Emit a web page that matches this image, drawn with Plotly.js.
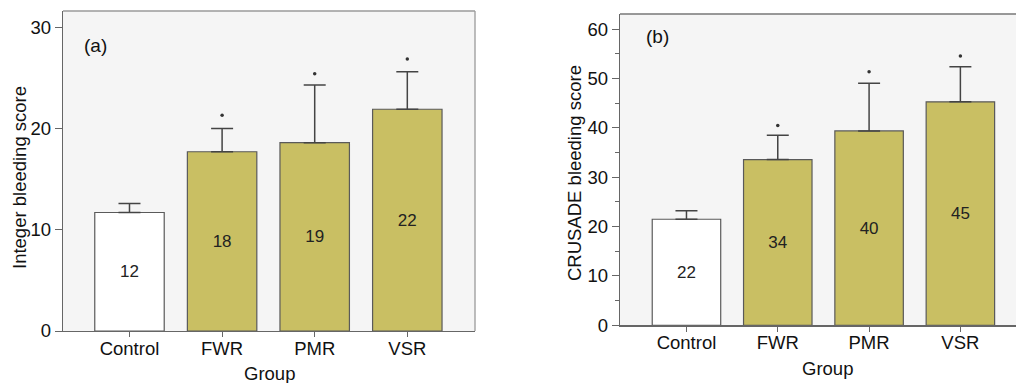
<!DOCTYPE html>
<html>
<head>
<meta charset="utf-8">
<script src="https://cdn.plot.ly/plotly-3.0.1.min.js"></script>
<style>html,body{margin:0;padding:0;background:#fff;}#chart{width:1016px;height:383px;}</style>
</head>
<body>
<div id="chart"></div>
<script>
// ---- data ----
const groups = ["Control", "FWR", "PMR", "VSR"];
// panel (a) Integer bleeding score
const integerMean = [11.7, 17.7, 18.6, 21.9];
const integerErr = [0.9, 2.3, 5.7, 3.7];
const integerLabels = ["12", "18", "19", "22"];
const integerStars = [null, 21.3, 25.4, 26.85];
// panel (b) CRUSADE bleeding score
const crusadeMean = [21.5, 33.6, 39.4, 45.3];
const crusadeErr = [1.7, 4.9, 9.65, 7.1];
const crusadeLabels = ["22", "34", "40", "45"];
const crusadeStars = [null, 40.5, 51.4, 54.6];
const yTicksA = [0, 10, 20, 30];
const yTicksB = [0, 10, 20, 30, 40, 50, 60];

// ---- style ----
const W = 1016, H = 383;
const FONT = "Liberation Sans, Arial, sans-serif";
const olive = "#c9bf63";
const barColors = ["#ffffff", olive, olive, olive];
const px = p => p / W;
const py = p => 1 - p / H;

function barTrace(y, err, labels, xa, ya) {
  return {
    type: "bar", x: groups, y: y, xaxis: xa, yaxis: ya,
    width: 0.75,
    marker: {color: barColors, line: {color: "#5a5a5a", width: 1.2}},
    text: labels, textposition: "inside", insidetextanchor: "middle",
    textangle: 0, constraintext: "none",
    textfont: {family: FONT, size: 17, color: "#222"},
    error_y: {type: "data", symmetric: false, array: err, arrayminus: [0,0,0,0],
              color: "#444", thickness: 1.5, width: 11},
    hoverinfo: "skip", showlegend: false
  };
}
function starTrace(y, xa, ya) {
  return {
    type: "scatter", mode: "markers", x: groups, y: y, xaxis: xa, yaxis: ya,
    marker: {size: 3.5, color: "#333"}, hoverinfo: "skip", showlegend: false
  };
}

const data = [
  barTrace(integerMean, integerErr, integerLabels, "x", "y"),
  starTrace(integerStars, "x", "y"),
  barTrace(crusadeMean, crusadeErr, crusadeLabels, "x2", "y2"),
  starTrace(crusadeStars, "x2", "y2")
];

const tickfont = {family: FONT, size: 18.5, color: "#111"};
const xBase = {
  type: "category", showgrid: false, zeroline: false, showline: true,
  linecolor: "#666", linewidth: 1.3, ticks: "outside", ticklen: 5,
  tickcolor: "#666", tickfont: tickfont, automargin: false, fixedrange: true,
  ticklabelstandoff: -5
};
const yBase = {
  showgrid: false, zeroline: false, showline: true, linecolor: "#666",
  linewidth: 1.3, ticks: "outside", ticklen: 7, tickcolor: "#666",
  tickfont: tickfont, automargin: false, fixedrange: true
};

const layout = {
  width: W, height: H,
  margin: {l: 0, r: 0, t: 0, b: 0},
  paper_bgcolor: "#ffffff",
  plot_bgcolor: "#f5f5f5",
  font: {family: FONT},
  xaxis: Object.assign({}, xBase, {domain: [px(63), px(475)], range: [-0.718, 3.731], anchor: "y"}),
  yaxis: Object.assign({}, yBase, {domain: [py(331), py(11)], range: [0, 31.6], tickvals: yTicksA, anchor: "x"}),
  xaxis2: Object.assign({}, xBase, {domain: [px(620), 1], range: [-0.728, 3.609], anchor: "y2"}),
  yaxis2: Object.assign({}, yBase, {domain: [py(325.3), py(14)], range: [0, 63.1], tickvals: yTicksB, anchor: "x2",
    minor: {tickvals: [5, 15, 25, 35, 45, 55], ticks: "outside", ticklen: 4, tickcolor: "#666"}}),
  shapes: [
    {type: "line", xref: "paper", yref: "paper", x0: px(63), x1: px(475), y0: py(11), y1: py(11), line: {color: "#9a9a9a", width: 1.3}},
    {type: "line", xref: "paper", yref: "paper", x0: px(475), x1: px(475), y0: py(331), y1: py(11), line: {color: "#9a9a9a", width: 1.3}},
    {type: "line", xref: "paper", yref: "paper", x0: px(620), x1: 1, y0: py(14), y1: py(14), line: {color: "#777", width: 1.3}}
  ],
  annotations: [
    {text: "(a)", xref: "paper", yref: "paper", x: px(82), y: py(45), xanchor: "left", yanchor: "middle", showarrow: false, font: {family: FONT, size: 19, color: "#111"}},
    {text: "(b)", xref: "paper", yref: "paper", x: px(644), y: py(36), xanchor: "left", yanchor: "middle", showarrow: false, font: {family: FONT, size: 19, color: "#111"}},
    {text: "Group", xref: "paper", yref: "paper", x: px(269), y: py(373), xanchor: "center", yanchor: "middle", showarrow: false, font: {family: FONT, size: 18.5, color: "#111"}},
    {text: "Group", xref: "paper", yref: "paper", x: px(827), y: py(368), xanchor: "center", yanchor: "middle", showarrow: false, font: {family: FONT, size: 18.5, color: "#111"}},
    {text: "Integer bleeding score", xref: "paper", yref: "paper", x: px(19), y: py(178), xanchor: "center", yanchor: "middle", textangle: -90, showarrow: false, font: {family: FONT, size: 18.5, color: "#111"}},
    {text: "CRUSADE bleeding score", xref: "paper", yref: "paper", x: px(575), y: py(173), xanchor: "center", yanchor: "middle", textangle: -90, showarrow: false, font: {family: FONT, size: 18.5, color: "#111"}}
  ]
};

Plotly.newPlot("chart", data, layout, {displayModeBar: false, staticPlot: true});
</script>
</body>
</html>
